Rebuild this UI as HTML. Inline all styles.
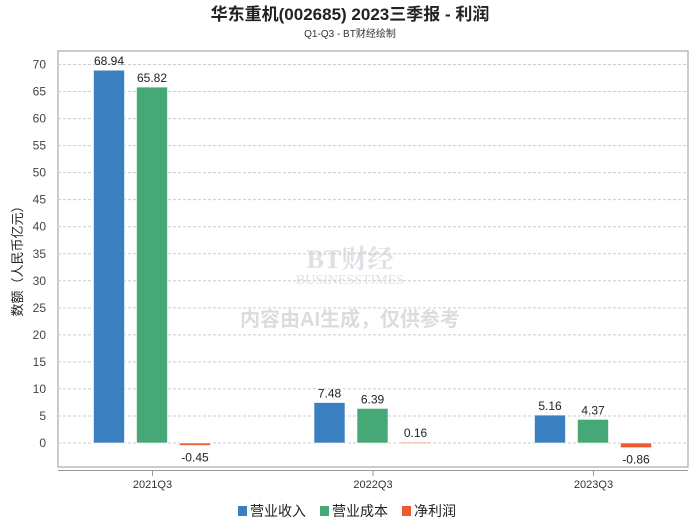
<!DOCTYPE html>
<html><head><meta charset="utf-8"><style>
body{margin:0;background:#fff;font-family:"Liberation Sans","Noto Sans CJK SC",sans-serif;}
</style></head><body>
<svg id="chart" width="700" height="524" xmlns="http://www.w3.org/2000/svg" font-family="Liberation Sans, Noto Sans CJK SC, sans-serif">
<text x="350" y="20" text-anchor="middle" font-size="17" font-weight="bold" fill="#222">华东重机(002685) 2023三季报 - 利润</text>
<text x="350" y="37" text-anchor="middle" font-size="10" fill="#333">Q1-Q3 - BT财经绘制</text>
<g id="watermark" opacity="0.18">
<text x="350" y="268" text-anchor="middle" font-size="26" font-family="Liberation Serif, Noto Serif CJK SC, serif" fill="#557" font-weight="bold">BT财经</text>
<text x="350" y="284" text-anchor="middle" font-size="14" font-family="Liberation Serif, serif" fill="#557">BUSINESSTIMES</text>
<text x="350" y="326" text-anchor="middle" font-size="20" font-weight="bold" fill="#444">内容由AI生成，仅供参考</text>
</g>
<rect x="58" y="51" width="630" height="416" fill="none" stroke="#999" stroke-width="1"/>
<line x1="58" y1="470.5" x2="688" y2="470.5" stroke="#999" stroke-width="1"/>
<g id="grid"></g><g id="bars"></g><g id="xaxis"></g>
<text transform="translate(22,258) rotate(-90)" text-anchor="middle" font-size="13" fill="#222">数额（人民币亿元）</text>
<g font-size="14" fill="#222">
<rect x="238" y="506" width="9" height="10" fill="#3a7fbf"/>
<text x="250" y="516">营业收入</text>
<rect x="320" y="506" width="9" height="10" fill="#45a876"/>
<text x="332" y="516">营业成本</text>
<rect x="402" y="506" width="9" height="10" fill="#ee5a2f"/>
<text x="414" y="516">净利润</text>
</g>
</svg>
<script>
const categories = ["2021Q3","2022Q3","2023Q3"];
const revenue = [68.94, 7.48, 5.16];
const cost = [65.82, 6.39, 4.37];
const profit = [-0.45, 0.16, -0.86];
const yTicks = [0,5,10,15,20,25,30,35,40,45,50,55,60,65,70];
const NS="http://www.w3.org/2000/svg";
function y(v){return 443 - v*(443-64.5)/70;}
function xc(i){return 152.5 + i*220.5;}
function mk(tag,attrs,parent){const e=document.createElementNS(NS,tag);for(const k in attrs)e.setAttribute(k,attrs[k]);parent.appendChild(e);return e;}
const grid=document.getElementById('grid'),bars=document.getElementById('bars'),xa=document.getElementById('xaxis');
yTicks.forEach(t=>{
  const l=mk('line',{x1:58,x2:688,y1:y(t),y2:y(t),stroke:'#ccc','stroke-dasharray':'3,2'},grid);
  
  
  const tx=mk('text',{x:46,y:y(t)+4,'text-anchor':'end','font-size':12,fill:'#444'},grid);
  tx.textContent=t;
  
  
});
const series=[{d:revenue,c:'#3a7fbf',o:-59,n:'revenue'},{d:cost,c:'#45a876',o:-16,n:'cost'},{d:profit,c:'#ee5a2f',o:27,n:'profit'}];
categories.forEach((cat,i)=>{
  const cx=xc(i);
  const tk=mk('line',{x1:cx,x2:cx,y1:470,y2:476,stroke:'#999'},xa);
  
  
  const lb=mk('text',{x:cx,y:488,'text-anchor':'middle','font-size':11,fill:'#333'},xa);
  lb.textContent=cat;
  
  
  series.forEach(s=>{
    const v=s.d[i];const x=cx+s.o;const top=Math.min(y(v),y(0));const h=Math.max(Math.abs(y(v)-y(0)),1.5);
    const r=mk('rect',{x:x,y:top,width:31,height:h,fill:s.c,stroke:'#fff','stroke-opacity':0.6},bars);
    if(s.n==='profit'&&v>0)r.setAttribute('fill-opacity','0.5');
    
    
    const t=mk('text',{x:x+15.5,y:v>=0?y(v)-5:y(0)+h+16,'text-anchor':'middle','font-size':12,fill:'#222'},bars);
    t.textContent=v.toFixed(2);
    
    
  });
});
</script>
</body></html>
